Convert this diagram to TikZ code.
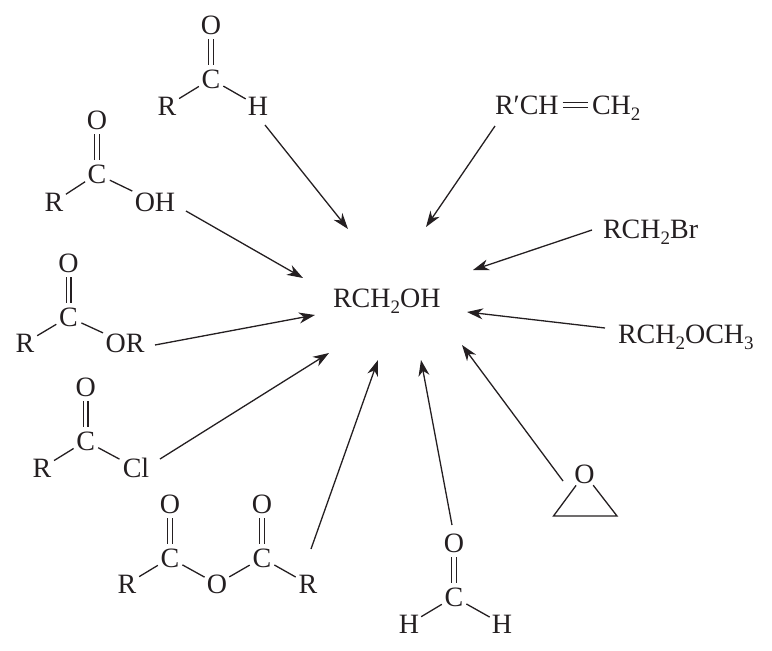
\documentclass[tikz,border=0pt]{standalone}
\usepackage{fontspec}
\setmainfont{Liberation Serif}
\usetikzlibrary{arrows.meta}
\definecolor{ink}{rgb}{0.14,0.12,0.13}
\newcommand{\subs}[1]{\raisebox{-0.22em}{\fontsize{19}{19}\selectfont #1}}
\tikzset{
  x=1pt,y=-1pt,
  every node/.style={text=ink,font=\fontsize{28}{28}\selectfont},
  atom/.style={circle,inner sep=0pt,minimum size=28pt,text height=18pt,text depth=0pt},
  wideatom/.style={atom,minimum size=#1},
  formula/.style={rectangle,inner ysep=0pt,inner xsep=0pt,outer ysep=0pt,outer xsep=4pt,text height=18pt,text depth=0pt,anchor=base west},
  bond/.style={draw=ink,line width=1.3pt},
  dbond/.style={draw=ink,double,double distance=3.4pt,line width=1.3pt},
  reaction/.style={draw=ink,line width=1.3pt,-{Stealth[length=16pt,width=11pt,inset=5pt]}},
}
\begin{document}
\begin{tikzpicture}
\useasboundingbox (0,0) rectangle (772,651);
% product
\node[formula] (prod) at (329,307) {RCH\subs{2}OH};
% arrow tips around the product
\coordinate (tipA) at (348,229);
\coordinate (tipB) at (303,278);
\coordinate (tipC) at (315,315);
\coordinate (tipD) at (329,353);
\coordinate (tipE) at (378,360);
\coordinate (tipF) at (421,360);
\coordinate (tipG) at (462,345);
\coordinate (tipH) at (467,312);
\coordinate (tipI) at (473,270);
\coordinate (tipJ) at (426,227);
% aldehyde
\node[atom] (aO) at (211,25) {O};
\node[atom] (aC) at (211,79) {C};
\node[atom] (aR) at (167,106) {R};
\node[atom] (aH) at (258,106) {H};
\draw[dbond] (aC) -- (aO);
\draw[bond] (aR) -- (aC);
\draw[bond] (aC) -- (aH);
\draw[reaction] ([shift={(7,19)}]aH.center) -- (tipA);
% acid
\node[atom] (bO) at (97,120) {O};
\node[atom] (bC) at (97,174) {C};
\node[atom] (bR) at (54,202) {R};
\node[wideatom=50pt] (bH) at (155,202) {OH};
\draw[dbond] (bC) -- (bO);
\draw[bond] (bR) -- (bC);
\draw[bond] (bC) -- (bH);
\draw[reaction] ([shift={(31,9)}]bH.center) -- (tipB);
% ester
\node[atom] (cO) at (68.5,263) {O};
\node[atom] (cC) at (68.5,317) {C};
\node[atom] (cR) at (25,343) {R};
\node[wideatom=48pt] (cE) at (125,343) {OR};
\draw[dbond] (cC) -- (cO);
\draw[bond] (cR) -- (cC);
\draw[bond] (cC) -- (cE);
\draw[reaction] ([shift={(30,2)}]cE.center) -- (tipC);
% acyl chloride
\node[atom] (dO) at (85.7,387) {O};
\node[atom] (dC) at (85.7,441) {C};
\node[atom] (dR) at (42,468) {R};
\node[wideatom=37pt] (dL) at (136,468) {Cl};
\draw[dbond] (dC) -- (dO);
\draw[bond] (dR) -- (dC);
\draw[bond] (dC) -- (dL);
\draw[reaction] ([shift={(24,-9)}]dL.center) -- (tipD);
% anhydride
\node[atom] (eO) at (170,504) {O};
\node[atom] (eC) at (170,558) {C};
\node[atom] (eR) at (127,584) {R};
\node[atom] (eM) at (217,584) {O};
\node[atom] (fO) at (262,504) {O};
\node[atom] (fC) at (262,558) {C};
\node[atom] (fR) at (308,584) {R};
\draw[dbond] (eC) -- (eO);
\draw[dbond] (fC) -- (fO);
\draw[bond] (eR) -- (eC);
\draw[bond] (eC) -- (eM);
\draw[bond] (eM) -- (fC);
\draw[bond] (fC) -- (fR);
\draw[reaction] ([shift={(3,-35)}]fR.center) -- (tipE);
% formaldehyde
\node[atom] (gO) at (454,543) {O};
\node[atom] (gC) at (454,597) {C};
\node[atom] (gL) at (409,624) {H};
\node[atom] (gR) at (502,624) {H};
\draw[dbond] (gC) -- (gO);
\draw[bond] (gL) -- (gC);
\draw[bond] (gC) -- (gR);
\draw[reaction] ([shift={(-2,-18)}]gO.center) -- (tipF);
% epoxide
\node[atom] (hO) at (584.5,474) {O};
\coordinate (hL) at (553.5,516);
\coordinate (hR) at (617,516);
\draw[bond,line join=miter] (hO) -- (hL) -- (hR) -- (hO);
\draw[reaction] ([shift={(-21.5,7)}]hO.center) -- (tipG);
% ether
\node[formula] (iF) at (614,343) {RCH\subs{2}OCH\subs{3}};
\draw[reaction] ([shift={(-9,-6)}]iF.west) -- (tipH);
% bromide
\node[formula] (jF) at (599,238) {RCH\subs{2}Br};
\draw[reaction] ([shift={(-7,1)}]jF.west) -- (tipI);
% alkene
\node[formula] (kL) at (491,114) {R′CH};
\node[formula] (kR) at (588,114) {CH\subs{2}};
\draw[dbond] (kL) -- (kR);
\draw[reaction] ([shift={(4,21)}]kL.west) -- (tipJ);
\end{tikzpicture}
\end{document}
